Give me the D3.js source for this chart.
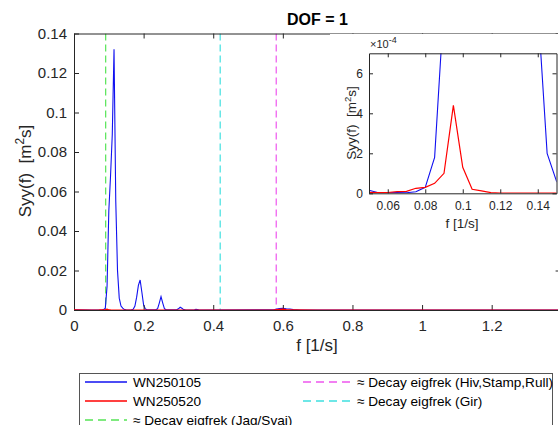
<!DOCTYPE html>
<html><head><meta charset="utf-8">
<script src="https://cdn.jsdelivr.net/npm/d3@7"></script>
<style>
html,body{margin:0;padding:0;background:#fff;}
svg{display:block;font-family:"Liberation Sans",Arial,sans-serif;}
</style></head>
<body><svg id="c" width="558" height="425"></svg>
<script>
// ---- data ----
const blueF = [0, 0.05, 0.055, 0.06, 0.065, 0.07, 0.075, 0.08, 0.085, 0.09, 0.095, 0.1, 0.105, 0.11, 0.115, 0.12, 0.125, 0.13, 0.135, 0.14, 0.145, 0.15, 0.155, 0.165, 0.17, 0.175, 0.18, 0.185, 0.19, 0.195, 0.2, 0.205, 0.21, 0.235, 0.24, 0.245, 0.25, 0.255, 0.26, 0.265, 0.295, 0.3, 0.305, 0.31, 0.315, 0.32, 0.345, 0.35, 0.355, 0.36, 0.575, 0.58, 0.59, 0.6, 0.61, 0.62, 0.63, 0.65, 1.398];
const blueV = [0.0001, 0.000015, 0.000003, 0.000003, 0.000004, 0.000003, 0.000008, 0.00003, 0.00018, 0.00095, 0.012, 0.05, 0.068, 0.089, 0.132, 0.055, 0.02, 0.006, 0.002, 0.00094, 0.0002, 0.00006, 0.00002, 0.0001, 0.0004, 0.002, 0.0065, 0.0125, 0.0152, 0.009, 0.0025, 0.0005, 0.0001, 0.0001, 0.0006, 0.0035, 0.0068, 0.0035, 0.0006, 0.0001, 0.0001, 0.0006, 0.0014, 0.0009, 0.0002, 0.00005, 0.00002, 0.0003, 0.0002, 0.00001, 0.0001, 0.0004, 0.0007, 0.0009, 0.0006, 0.0005, 0.0002, 0.00003, 0.000001];
const redF = [0, 0.05, 0.055, 0.06, 0.065, 0.07, 0.075, 0.08, 0.085, 0.09, 0.095, 0.1, 0.105, 0.11, 0.115, 0.12, 0.13, 0.14, 0.15, 0.2, 0.3, 0.57, 0.59, 0.6, 0.61, 0.63, 0.7, 1.398];
const redV = [0.00003, 0.000005, 0.000003, 0.000004, 0.000008, 0.00001, 0.000025, 0.00003, 0.00005, 0.0001, 0.00044, 0.00013, 0.00002, 0.000012, 0.000003, 0.000001, 0.000001, 0.000001, 0.000001, 0.000002, 0.000002, 0.00001, 0.0003, 0.0004, 0.0002, 0.0001, 0.000005, 0.000001];
const decayF = [0.091, 0.42, 0.581];            // Jag/Svai, Gir, Hiv/Stamp/Rull
const decayColors = ["#55e455", "#3fe0e0", "#ee55ee"];
const xTicks = [0, 0.2, 0.4, 0.6, 0.8, 1, 1.2];
const yTicks = [0, 0.02, 0.04, 0.06, 0.08, 0.1, 0.12, 0.14];
const inXTicks = [0.06, 0.08, 0.1, 0.12, 0.14];
const inYTicks = [0, 2, 4, 6];   // x 1e-4
const legendLabels = ["WN250105", "WN250520", "\u2248 Decay eigfrek (Jag/Svai)", "\u2248 Decay eigfrek (Hiv,Stamp,Rull)", "\u2248 Decay eigfrek (Gir)"];
const legendColors = ["#1010f0", "#ff0000", "#55e455", "#ee55ee", "#3fe0e0"];
const legendDashed = [false, false, true, true, true];
const legendCol = [0, 0, 0, 1, 1];
const legendRow = [0, 1, 2, 0, 1];

const svg = d3.select("#c");
const axC = "#262626";

// ---- main axes ----
const x = d3.scaleLinear([0, 1.398], [74, 560.6]);
const y = d3.scaleLinear([0, 0.14], [310, 33.5]);

const defs = svg.append("defs");
defs.append("clipPath").attr("id","mclip").append("rect")
  .attr("x",74).attr("y",33.5).attr("width",487).attr("height",276.5);

const mg = svg.append("g").attr("clip-path","url(#mclip)");
decayF.forEach((f,i)=>{
  mg.append("line").attr("x1",x(f)).attr("x2",x(f)).attr("y1",y(0.14)).attr("y2",y(0))
    .attr("stroke",decayColors[i]).attr("stroke-width",1.2).attr("stroke-dasharray","7,4");
});
const line = d3.line().x(d=>x(d[0])).y(d=>y(d[1]));
mg.append("path").datum(d3.zip(blueF, blueV)).attr("d", line)
  .attr("fill","none").attr("stroke","#1010f0").attr("stroke-width",1.1);

const fmt = d => String(d);
const gx = svg.append("g").attr("transform","translate(0,310)")
  .call(d3.axisBottom(x).tickValues(xTicks).tickFormat(fmt).tickSizeInner(-5).tickSizeOuter(0).tickPadding(10));
const gy = svg.append("g").attr("transform","translate(74,0)")
  .call(d3.axisLeft(y).tickValues(yTicks).tickFormat(fmt).tickSizeInner(-5).tickSizeOuter(0).tickPadding(7));
const gt = svg.append("g").attr("transform","translate(0,33.5)")
  .call(d3.axisTop(x).tickValues(xTicks).tickFormat("").tickSizeInner(-5).tickSizeOuter(0));
const gr = svg.append("g").attr("transform","translate(560.6,0)")
  .call(d3.axisRight(y).tickValues(yTicks).tickFormat("").tickSizeInner(-5).tickSizeOuter(0));
[gx,gy,gt,gr].forEach(g=>{
  g.selectAll("path").attr("stroke",axC);
  g.selectAll(".tick line").attr("stroke",axC);
  g.selectAll("text").attr("fill",axC).attr("font-size",15).attr("font-family","Liberation Sans, Arial, sans-serif");
});
svg.append("g").attr("clip-path","url(#mclip)").append("path").datum(d3.zip(redF, redV)).attr("d", line)
  .attr("fill","none").attr("stroke","#ff0000").attr("stroke-width",1.2);

svg.append("text").attr("x",317.5).attr("y",25).attr("text-anchor","middle")
  .attr("font-size",16).attr("font-weight","bold").attr("fill","#000").text("DOF = 1");
svg.append("text").attr("x",317).attr("y",351).attr("text-anchor","middle")
  .attr("font-size",17).attr("fill",axC).text("f [1/s]");
const yl = svg.append("text").attr("transform","translate(31,171) rotate(-90)")
  .attr("text-anchor","middle").attr("font-size",17).attr("fill",axC);
yl.append("tspan").text("Syy(f)\u00a0\u00a0[m");
yl.append("tspan").attr("dy",-7).attr("font-size",12).text("2");
yl.append("tspan").attr("dy",7).text("s]");

// ---- inset ----
const xi = d3.scaleLinear([0.05, 0.15], [369, 556.5]);
const yi = d3.scaleLinear([0, 7e-4], [193.3, 53.3]);
svg.append("rect").attr("x",330).attr("y",34).attr("width",228).attr("height",200).attr("fill","#fff");
defs.append("clipPath").attr("id","iclip").append("rect")
  .attr("x",369).attr("y",53.3).attr("width",187.5).attr("height",140);
const ig = svg.append("g").attr("clip-path","url(#iclip)");
const iline = d3.line().x(d=>xi(d[0])).y(d=>yi(d[1]));
ig.append("path").datum(d3.zip(blueF, blueV)).attr("d", iline)
  .attr("fill","none").attr("stroke","#1010f0").attr("stroke-width",1.1);
ig.append("path").datum(d3.zip(redF, redV)).attr("d", iline)
  .attr("fill","none").attr("stroke","#ff0000").attr("stroke-width",1.2);
const yiT = inYTicks.map(v=>v*1e-4);
const ix = svg.append("g").attr("transform","translate(0,193.3)")
  .call(d3.axisBottom(xi).tickValues(inXTicks).tickFormat(fmt).tickSizeInner(-4).tickSizeOuter(0).tickPadding(8));
const iy = svg.append("g").attr("transform","translate(369,0)")
  .call(d3.axisLeft(yi).tickValues(yiT).tickFormat((d,i)=>String(inYTicks[i])).tickSizeInner(-4).tickSizeOuter(0).tickPadding(6));
const itop = svg.append("g").attr("transform","translate(0,53.3)")
  .call(d3.axisTop(xi).tickValues(inXTicks).tickFormat("").tickSizeInner(-4).tickSizeOuter(0));
const ir = svg.append("g").attr("transform","translate(556.5,0)")
  .call(d3.axisRight(yi).tickValues(yiT).tickFormat("").tickSizeInner(-4).tickSizeOuter(0));
[ix,iy,itop,ir].forEach(g=>{
  g.selectAll("path").attr("stroke",axC);
  g.selectAll(".tick line").attr("stroke",axC);
  g.selectAll("text").attr("fill",axC).attr("font-size",12).attr("font-family","Liberation Sans, Arial, sans-serif");
});
const ex = svg.append("text").attr("x",370).attr("y",48).attr("font-size",11).attr("fill",axC);
ex.append("tspan").text("\u00d710");
ex.append("tspan").attr("dy",-5).attr("font-size",9).text("-4");
svg.append("text").attr("x",462).attr("y",228).attr("text-anchor","middle")
  .attr("font-size",13.5).attr("fill",axC).text("f [1/s]");
const iyl = svg.append("text").attr("transform","translate(356,123) rotate(-90)")
  .attr("text-anchor","middle").attr("font-size",13.5).attr("fill",axC);
iyl.append("tspan").text("Syy(f)\u00a0\u00a0[m");
iyl.append("tspan").attr("dy",-5.5).attr("font-size",9.5).text("2");
iyl.append("tspan").attr("dy",5.5).text("s]");

// ---- legend ----
const lg = svg.append("g");
lg.append("rect").attr("x",79.5).attr("y",373.5).attr("width",473).attr("height",60)
  .attr("fill","#fff").attr("stroke","#555").attr("stroke-width",1);
const colX = [85, 303];
const rowY = [382, 401, 420];
legendLabels.forEach((lab,i)=>{
  const x0 = colX[legendCol[i]], yy = rowY[legendRow[i]];
  const len = legendCol[i] === 0 ? 42 : 48;
  const ln = lg.append("line").attr("x1",x0).attr("x2",x0+len).attr("y1",yy).attr("y2",yy)
    .style("stroke",legendColors[i]).attr("stroke-width",1.3);
  if (legendDashed[i]) ln.attr("stroke-dasharray","8,5");
  lg.append("text").attr("x",x0+len+6).attr("y",yy).attr("dy","0.35em")
    .attr("font-size",13.6).attr("fill","#000").text(lab);
});
</script></body></html>
